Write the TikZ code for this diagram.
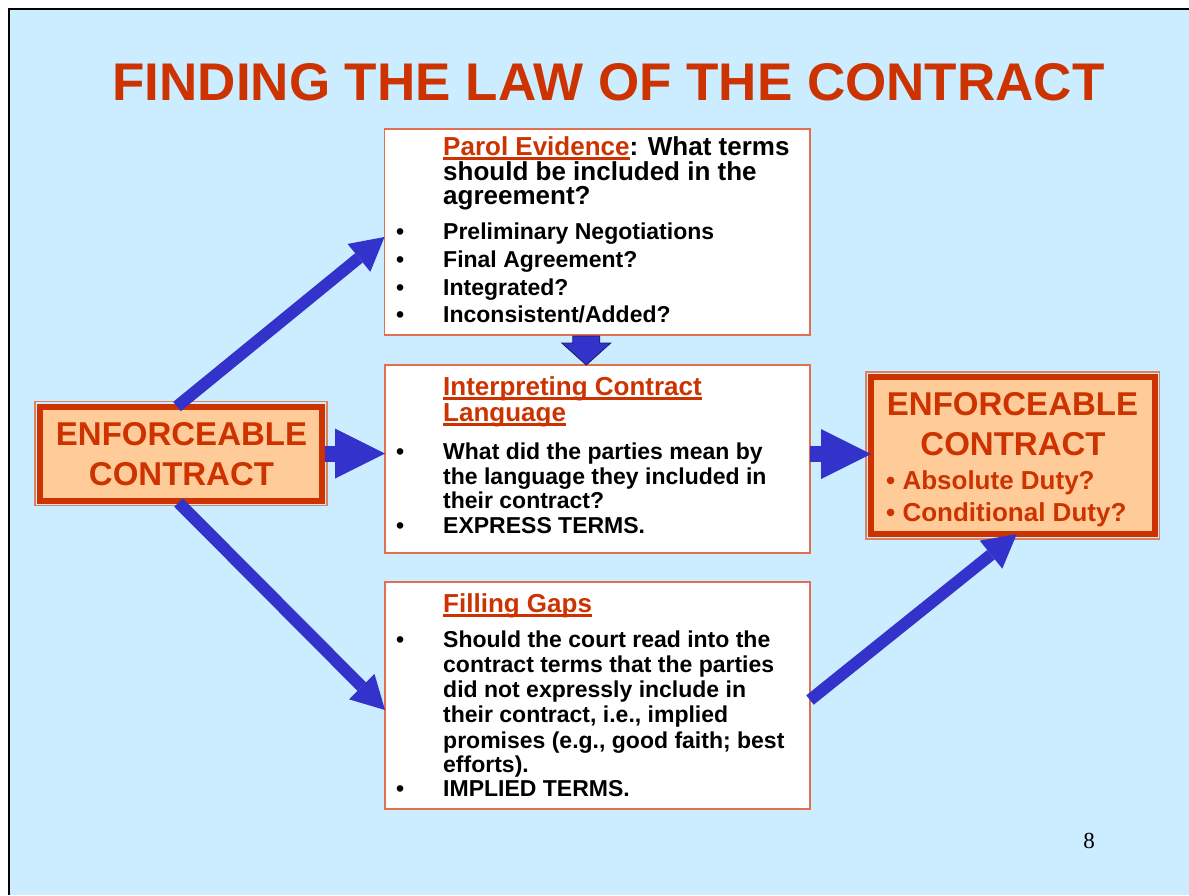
\documentclass[tikz,border=0pt]{standalone}
\usepackage{fontspec}
\setmainfont{Liberation Sans}
\newfontfamily\serifpn{Liberation Serif}
\usetikzlibrary{arrows.meta,calc}
\definecolor{bgblue}{HTML}{CCECFF}
\definecolor{ttlred}{HTML}{CC3300}
\definecolor{peach}{HTML}{FFCC99}
\definecolor{arrblue}{HTML}{3333CC}
\definecolor{arrnavy}{HTML}{1A1A66}
\definecolor{boxline}{HTML}{E07050}
\definecolor{thinred}{HTML}{E08060}
\newcommand\redul[1]{\setbox0\hbox{#1}\rlap{\rule[-4.5pt]{\wd0}{2.2pt}}\box0}
\begin{document}
\begin{tikzpicture}[x=1pt,y=-1pt,
  wbox/.style={draw=boxline, line width=1.5pt, fill=white, inner sep=0pt, outer sep=0pt},
  ebox/.style={draw=ttlred, line width=6pt, fill=peach, inner sep=0pt, outer sep=0pt},
  thinframe/.style={draw=thinred, line width=1.5pt},
  hd/.style={anchor=base west, inner sep=0pt, font=\fontsize{26}{26}\selectfont\bfseries},
  itm/.style={anchor=base west, inner sep=0pt, font=\fontsize{23}{23}\selectfont\bfseries},
  big/.style={anchor=base, inner sep=0pt, text=ttlred, font=\fontsize{33}{33}\selectfont\bfseries},
  sub/.style={anchor=base west, inner sep=0pt, text=ttlred, font=\fontsize{26}{26}\selectfont\bfseries},
  arr/.style={draw=arrblue, line width=12pt, -{Triangle[length=33pt,width=36pt,line width=0pt]}},
  harr/.style={draw=arrblue, line width=16pt, -{Triangle[length=50pt,width=50pt,line width=0pt]}}
]
\useasboundingbox (0,0) rectangle (1189,895);
\fill[white] (0,0) rectangle (1189,895);
\fill[bgblue] (8.5,9) rectangle (1189,895);
\draw[line width=2pt] (8.5,895) -- (8.5,9) -- (1189,9);

% title
\node[anchor=base, inner sep=0pt, text=ttlred, font=\fontsize{53}{53}\selectfont\bfseries] (title) at (608.5,100) {FINDING THE LAW OF THE CONTRACT};

% boxes
\node[wbox, minimum width=425.5pt, minimum height=206pt] (P) at (597.25,232) {};
\node[wbox, minimum width=425pt, minimum height=188pt] (I) at (597.5,459) {};
\node[wbox, minimum width=425pt, minimum height=227pt] (F) at (597.5,695.5) {};

\node[ebox, minimum width=282pt, minimum height=94pt] (L) at (181,453.5) {};
\draw[thinframe] ([xshift=-5pt,yshift=5pt]L.north west) rectangle ([xshift=5pt,yshift=-5pt]L.south east);
\node[ebox, minimum width=283.5pt, minimum height=157pt] (R) at (1012.75,455.5) {};
\draw[thinframe] ([xshift=-5pt,yshift=5pt]R.north west) rectangle ([xshift=5pt,yshift=-5pt]R.south east);

% left box text
\node[big] (l1) at (181.5,445) {ENFORCEABLE};
\node[big] (l2) at (181.5,485) {CONTRACT};

% right box text
\node[big] (r1) at (1012.5,415) {ENFORCEABLE};
\node[big] (r2) at (1013,455) {CONTRACT};
\node[sub] (r3) at (886,489) {• Absolute Duty?};
\node[sub] (r4) at (886,521) {• Conditional Duty?};

% parol evidence box
\node[hd] (p1) at (443,155) {\textcolor{ttlred}{\redul{Parol Evidence}}: What terms};
\node[hd] (p2) at (443,180) {should be included in the};
\node[hd] (p3) at (443,204) {agreement?};
\node[itm] (pb1) at (396,239) {•};
\node[itm] (p4) at (443,239) {Preliminary Negotiations};
\node[itm] (pb2) at (396,267) {•};
\node[itm] (p5) at (443,267) {Final Agreement?};
\node[itm] (pb3) at (396,295) {•};
\node[itm] (p6) at (443,295) {Integrated?};
\node[itm] (pb4) at (396,322) {•};
\node[itm] (p7) at (443,322) {Inconsistent/Added?};

% interpreting box
\node[hd, text=ttlred] (i1) at (443,395) {\redul{Interpreting Contract}};
\node[hd, text=ttlred] (i2) at (443,421) {\redul{Language}};
\node[itm] (ib1) at (396,459) {•};
\node[itm] (i3) at (443,459) {What did the parties mean by};
\node[itm] (i4) at (443,484) {the language they included in};
\node[itm] (i5) at (443,508) {their contract?};
\node[itm] (ib2) at (396,533) {•};
\node[itm] (i6) at (443,533) {EXPRESS TERMS.};

% filling gaps box
\node[hd, text=ttlred] (f1) at (443,612) {\redul{Filling Gaps}};
\node[itm] (fb1) at (396,647) {•};
\node[itm] (f2) at (443,647) {Should the court read into the};
\node[itm] (f3) at (443,672) {contract terms that the parties};
\node[itm] (f4) at (443,697) {did not expressly include in};
\node[itm] (f5) at (443,722) {their contract, i.e., implied};
\node[itm] (f6) at (443,748) {promises (e.g., good faith; best};
\node[itm] (f7) at (443,772) {efforts).};
\node[itm] (fb2) at (396,796) {•};
\node[itm] (f8) at (443,796) {IMPLIED TERMS.};

% arrows
\draw[arr] ([xshift=-4pt]L.north) -- ([yshift=-5pt]P.west);
\draw[arr] ([xshift=-2.5pt,yshift=-2pt]L.south) -- ([yshift=-14.5pt]F.west);
\draw[arr] ([yshift=-4.5pt]F.east) -- ([xshift=4pt]R.south);
\draw[harr] ([xshift=3pt]L.east) -- (L.east -| I.west);
\coordinate (rt) at ([yshift=5pt]I.east);
\draw[harr] (rt) -- (rt -| R.west);
\coordinate (dtop) at ([xshift=-11pt,yshift=-1pt]P.south);
\draw[draw=arrnavy, line width=0.8pt, fill=arrblue]
  ($(dtop)+(-13.5,0)$) -- ++(27,0) -- ++(0,7) -- ++(11,0) -- (dtop |- I.north)
  -- ++(-24.5,-22) -- ++(11,0) -- cycle;

% page number
\node[anchor=base, inner sep=0pt, font=\serifpn\fontsize{23}{23}\selectfont] (pg) at (1089,848) {8};
\end{tikzpicture}
\end{document}
